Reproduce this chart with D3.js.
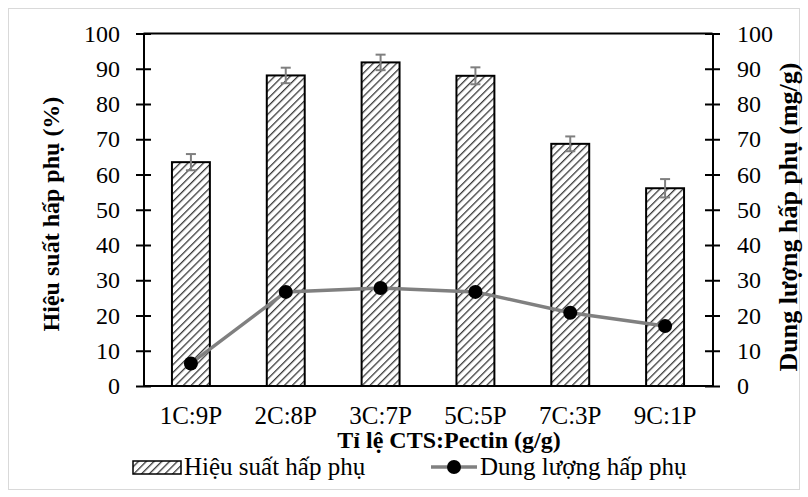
<!DOCTYPE html>
<html>
<head>
<meta charset="utf-8">
<script src="https://cdn.jsdelivr.net/npm/d3@7"></script>
<style>
  body { margin: 0; background: #fff; }
</style>
</head>
<body>
<svg width="808" height="497"></svg>
<script>
var categories = ["1C:9P", "2C:8P", "3C:7P", "5C:5P", "7C:3P", "9C:1P"];
var efficiency = [63.5, 88.1, 91.8, 88.0, 68.7, 56.1];
var effError = [2.3, 2.2, 2.2, 2.4, 2.1, 2.6];
var capacity = [6.4, 26.7, 27.8, 26.7, 20.8, 17.0];
var yTicks = [0, 10, 20, 30, 40, 50, 60, 70, 80, 90, 100];

var FONT = "'Liberation Serif', 'Times New Roman', Times, serif";

var svg = d3.select("svg");
var margin = { left: 143.5, right: 712.5, top: 33.5, bottom: 386 };

// outer frame
svg.append("rect")
    .attr("x", 8.5).attr("y", 8.5)
    .attr("width", 791).attr("height", 481)
    .attr("fill", "none")
    .attr("stroke", "#d9d9d9");

var defs = svg.append("defs");
var pat = defs.append("pattern")
    .attr("id", "hatch")
    .attr("patternUnits", "userSpaceOnUse")
    .attr("width", 5.5).attr("height", 5.5)
    .attr("patternTransform", "rotate(45)");
pat.append("rect").attr("width", 5.5).attr("height", 5.5).attr("fill", "#fff");
pat.append("line")
    .attr("x1", 0).attr("y1", 0).attr("x2", 0).attr("y2", 5.5)
    .attr("stroke", "#3a3a3a").attr("stroke-width", 2.6);

var x = d3.scaleBand()
    .domain(categories)
    .range([margin.left, margin.right])
    .paddingInner(0.6).paddingOuter(0.3);

var y = d3.scaleLinear().domain([0, 100]).range([margin.bottom, margin.top]);
var y2 = d3.scaleLinear().domain([0, 100]).range([margin.bottom, margin.top]);

// top frame line
svg.append("line")
    .attr("x1", margin.left).attr("x2", margin.right)
    .attr("y1", margin.top).attr("y2", margin.top)
    .attr("stroke", "#000").attr("stroke-width", 2);

// bars
svg.selectAll(".bar")
    .data(efficiency)
    .enter().append("rect")
    .attr("class", "bar")
    .attr("x", (d, i) => x(categories[i]))
    .attr("width", x.bandwidth())
    .attr("y", d => y(d))
    .attr("height", d => y(0) - y(d))
    .attr("fill", "url(#hatch)")
    .attr("stroke", "#000")
    .attr("stroke-width", 2);

// error bars
var eb = svg.selectAll(".err")
    .data(efficiency)
    .enter().append("g")
    .attr("class", "err")
    .attr("stroke", "#7f7f7f")
    .attr("stroke-width", 2);
eb.append("line")
    .attr("x1", (d, i) => x(categories[i]) + x.bandwidth() / 2)
    .attr("x2", (d, i) => x(categories[i]) + x.bandwidth() / 2)
    .attr("y1", (d, i) => y(d - effError[i]))
    .attr("y2", (d, i) => y(d + effError[i]));
eb.append("line")
    .attr("x1", (d, i) => x(categories[i]) + x.bandwidth() / 2 - 5)
    .attr("x2", (d, i) => x(categories[i]) + x.bandwidth() / 2 + 5)
    .attr("y1", (d, i) => y(d + effError[i]))
    .attr("y2", (d, i) => y(d + effError[i]));
eb.append("line")
    .attr("x1", (d, i) => x(categories[i]) + x.bandwidth() / 2 - 5)
    .attr("x2", (d, i) => x(categories[i]) + x.bandwidth() / 2 + 5)
    .attr("y1", (d, i) => y(d - effError[i]))
    .attr("y2", (d, i) => y(d - effError[i]));

// line series
var line = d3.line()
    .x((d, i) => x(categories[i]) + x.bandwidth() / 2)
    .y(d => y2(d));
svg.append("path")
    .datum(capacity)
    .attr("d", line)
    .attr("fill", "none")
    .attr("stroke", "#808080")
    .attr("stroke-width", 3.5);
svg.selectAll(".pt")
    .data(capacity)
    .enter().append("circle")
    .attr("class", "pt")
    .attr("cx", (d, i) => x(categories[i]) + x.bandwidth() / 2)
    .attr("cy", d => y2(d))
    .attr("r", 7)
    .attr("fill", "#000");

// axes
function styleAxis(g, size) {
    g.attr("font-family", null);
    g.selectAll("path").attr("stroke", "#000").attr("stroke-width", 2);
    g.selectAll(".tick line").attr("stroke", "#000").attr("stroke-width", 2);
    g.selectAll("text")
        .style("font-size", size + "px")
        .style("font-family", FONT)
        .attr("fill", "#000");
}

var gl = svg.append("g")
    .attr("transform", `translate(${margin.left},0)`)
    .call(d3.axisLeft(y).tickValues(yTicks).tickSize(7.5).tickPadding(16).tickSizeOuter(0));
gl.selectAll(".tick line").attr("x2", 7.5).attr("x1", -7.5);
styleAxis(gl, 24);

var gr = svg.append("g")
    .attr("transform", `translate(${margin.right},0)`)
    .call(d3.axisRight(y2).tickValues(yTicks).tickSize(7.5).tickPadding(17).tickSizeOuter(0));
gr.selectAll(".tick line").attr("x1", -7.5).attr("x2", 7.5);
styleAxis(gr, 24);

var gb = svg.append("g")
    .attr("transform", `translate(0,${margin.bottom})`)
    .call(d3.axisBottom(x).tickSize(0).tickPadding(20).tickSizeOuter(0));
gb.select(".domain").attr("d", `M${margin.left},0H${margin.right}`);
styleAxis(gb, 25);

// axis titles
function title(sel, size) {
    return sel.attr("text-anchor", "middle")
        .style("font-family", FONT)
        .style("font-size", size + "px")
        .style("font-weight", "bold");
}

svg.append("text")
    .attr("x", 449).attr("y", 448)
    .call(title, 24)
    .text("Tỉ lệ CTS:Pectin (g/g)");

svg.append("text")
    .attr("transform", "translate(59,214) rotate(-90)")
    .call(title, 24)
    .text("Hiệu suất hấp phụ (%)");

svg.append("text")
    .attr("transform", "translate(797,217) rotate(-90)")
    .call(title, 26)
    .text("Dung lượng hấp phụ (mg/g)");

// legend
var lg = svg.append("g");
lg.append("rect")
    .attr("x", 133).attr("y", 461).attr("width", 48).attr("height", 13)
    .attr("fill", "url(#hatch)").attr("stroke", "#000").attr("stroke-width", 1.5);
lg.append("text")
    .attr("x", 184).attr("y", 475)
    .style("font-family", FONT).style("font-size", "25px")
    .text("Hiệu suất hấp phụ");
lg.append("line")
    .attr("x1", 431).attr("x2", 477).attr("y1", 467).attr("y2", 467)
    .attr("stroke", "#808080").attr("stroke-width", 3.5);
lg.append("circle")
    .attr("cx", 454).attr("cy", 467).attr("r", 7).attr("fill", "#000");
lg.append("text")
    .attr("x", 480).attr("y", 475)
    .style("font-family", FONT).style("font-size", "25px")
    .text("Dung lượng hấp phụ");
</script>
</body>
</html>
